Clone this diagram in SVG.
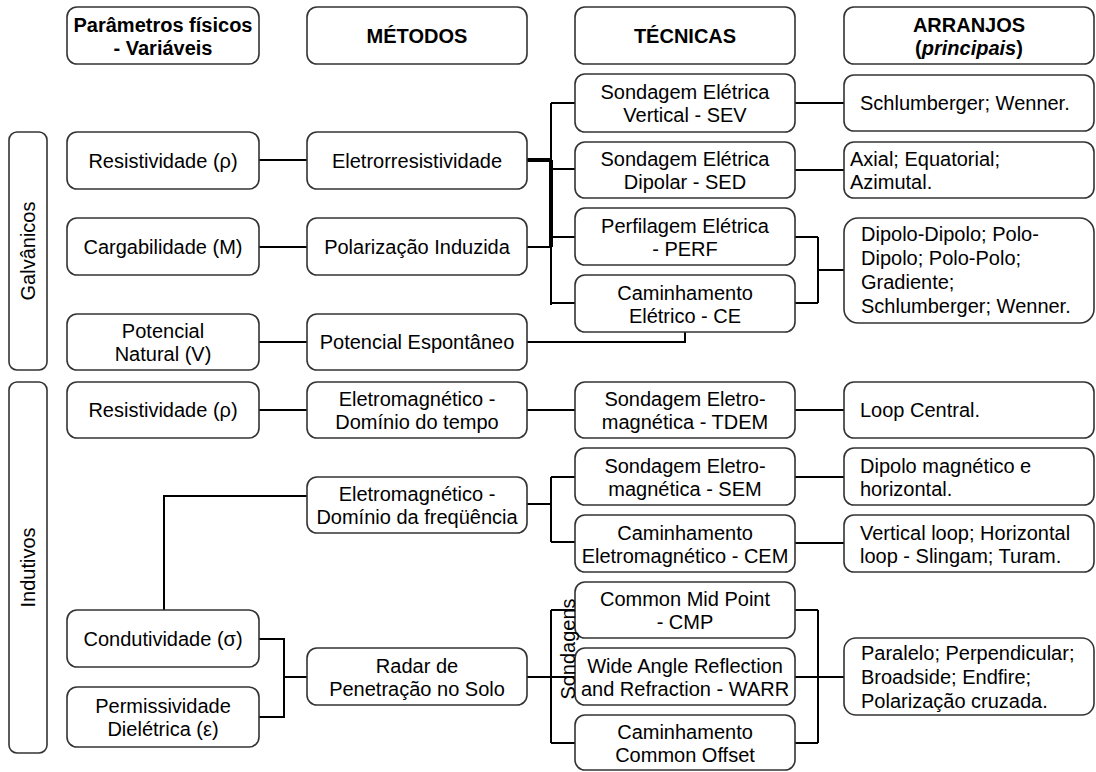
<svg xmlns="http://www.w3.org/2000/svg" width="1096" height="772" viewBox="0 0 1096 772">
<style>
.box{fill:#fff;stroke:#333;stroke-width:1.6}
.t{font-family:"Liberation Sans",Arial,sans-serif;font-size:20px;fill:#000;text-anchor:middle}
.l{text-anchor:start}
.b{font-weight:bold}
.c{stroke:#000;stroke-width:2;fill:none}
.thick{stroke:#000;stroke-width:4;fill:none}
</style>
<rect width="1096" height="772" fill="#fff"/>
<g id="connectors">
<path class="c" d="M259,160H307 M259,247H307 M259,342H307"/>
<path class="thick" d="M527,160H551 M551,160V247"/>
<path class="c" d="M527,247H551 M551,103V305 M551,103H575 M551,169H575 M551,237H575 M551,303H575"/>
<path class="c" d="M795,103H844 M795,170H844 M795,237H818 M795,303H818 M818,237V303 M818,270H844"/>
<path class="c" d="M527,342H685V332"/>
<path class="c" d="M259,410H307 M527,410H575 M795,410H844"/>
<path class="c" d="M307,496H164V610"/>
<path class="c" d="M527,504H551 M551,477V542 M551,477H575 M551,542H575 M795,477H844 M795,543H844"/>
<path class="c" d="M259,639H284V717H259 M284,677H307"/>
<path class="c" d="M527,677H551 M551,610V743 M551,610H575 M551,677H575 M551,743H575"/>
<path class="c" d="M795,610H818 M795,677H818 M795,743H818 M818,610V743 M818,677H844"/>
</g>
<g id="h1"><rect class="box" x="67" y="7" width="192" height="57" rx="10"/><text class="t b" x="163" y="31.5">Parâmetros físicos</text><text class="t b" x="163" y="54.5">- Variáveis</text></g>
<g id="h2"><rect class="box" x="307" y="7" width="220" height="57" rx="10"/><text class="t b" x="417" y="43">MÉTODOS</text></g>
<g id="h3"><rect class="box" x="575" y="7" width="220" height="57" rx="10"/><text class="t b" x="685" y="43">TÉCNICAS</text></g>
<g id="h4"><rect class="box" x="844" y="7" width="250" height="57" rx="10"/><text class="t b" x="969" y="31.5">ARRANJOS</text><text class="t b" x="969" y="54.5">(<tspan font-style="italic">principais</tspan>)</text></g>
<g id="galvanicos"><rect class="box" x="9" y="132" width="38" height="238" rx="8"/><text class="t" transform="translate(35,251) rotate(-90)">Galvânicos</text></g>
<g id="indutivos"><rect class="box" x="9" y="382" width="38" height="371" rx="8"/><text class="t" transform="translate(35,567.5) rotate(-90)">Indutivos</text></g>
<g id="p-resist1"><rect class="box" x="67" y="132" width="192" height="57" rx="10"/><text class="t" x="163" y="167.5">Resistividade (ρ)</text></g>
<g id="p-carga"><rect class="box" x="67" y="218" width="192" height="57" rx="10"/><text class="t" x="163" y="253.5">Cargabilidade (M)</text></g>
<g id="p-potnat"><rect class="box" x="67" y="314" width="192" height="56" rx="10"/><text class="t" x="163" y="338">Potencial</text><text class="t" x="163" y="361">Natural (V)</text></g>
<g id="p-resist2"><rect class="box" x="67" y="382" width="192" height="56" rx="10"/><text class="t" x="163" y="417">Resistividade (ρ)</text></g>
<g id="p-cond"><rect class="box" x="67" y="610" width="192" height="57" rx="10"/><text class="t" x="163" y="645.5">Condutividade (σ)</text></g>
<g id="p-perm"><rect class="box" x="67" y="687" width="192" height="60" rx="10"/><text class="t" x="163" y="713">Permissividade</text><text class="t" x="163" y="736">Dielétrica (ε)</text></g>
<g id="m-eletro"><rect class="box" x="307" y="132" width="220" height="57" rx="10"/><text class="t" x="417" y="167.5">Eletrorresistividade</text></g>
<g id="m-polar"><rect class="box" x="307" y="218" width="220" height="57" rx="10"/><text class="t" x="417" y="253.5">Polarização Induzida</text></g>
<g id="m-potesp"><rect class="box" x="307" y="314" width="220" height="56" rx="10"/><text class="t" x="417" y="349">Potencial Espontâneo</text></g>
<g id="m-tempo"><rect class="box" x="307" y="382" width="220" height="56" rx="10"/><text class="t" x="417" y="406">Eletromagnético -</text><text class="t" x="417" y="429">Domínio do tempo</text></g>
<g id="m-freq"><rect class="box" x="307" y="477" width="220" height="56" rx="10"/><text class="t" x="417" y="501">Eletromagnético -</text><text class="t" x="417" y="524">Domínio da freqüência</text></g>
<g id="m-radar"><rect class="box" x="307" y="648" width="220" height="57" rx="10"/><text class="t" x="417" y="672.5">Radar de</text><text class="t" x="417" y="695.5">Penetração no Solo</text></g>
<g id="t-sev"><rect class="box" x="575" y="74" width="220" height="58" rx="10"/><text class="t" x="685" y="99">Sondagem Elétrica</text><text class="t" x="685" y="122">Vertical - SEV</text></g>
<g id="t-sed"><rect class="box" x="575" y="142" width="220" height="56" rx="10"/><text class="t" x="685" y="166">Sondagem Elétrica</text><text class="t" x="685" y="189">Dipolar - SED</text></g>
<g id="t-perf"><rect class="box" x="575" y="208" width="220" height="57" rx="10"/><text class="t" x="685" y="232.5">Perfilagem Elétrica</text><text class="t" x="685" y="255.5">- PERF</text></g>
<g id="t-ce"><rect class="box" x="575" y="275" width="220" height="57" rx="10"/><text class="t" x="685" y="299.5">Caminhamento</text><text class="t" x="685" y="322.5">Elétrico - CE</text></g>
<g id="t-tdem"><rect class="box" x="575" y="382" width="220" height="56" rx="10"/><text class="t" x="685" y="406">Sondagem Eletro-</text><text class="t" x="685" y="429">magnética - TDEM</text></g>
<g id="t-sem"><rect class="box" x="575" y="448" width="220" height="57" rx="10"/><text class="t" x="685" y="472.5">Sondagem Eletro-</text><text class="t" x="685" y="495.5">magnética - SEM</text></g>
<g id="t-cem"><rect class="box" x="575" y="515" width="220" height="57" rx="10"/><text class="t" x="685" y="539.5">Caminhamento</text><text class="t" x="685" y="562.5">Eletromagnético - CEM</text></g>
<g id="t-cmp"><rect class="box" x="575" y="582" width="220" height="56" rx="10"/><text class="t" x="685" y="606">Common Mid Point</text><text class="t" x="685" y="629">- CMP</text></g>
<g id="t-warr"><rect class="box" x="575" y="648" width="220" height="57" rx="10"/><text class="t" x="685" y="672.5">Wide Angle Reflection</text><text class="t" x="685" y="695.5">and Refraction - WARR</text></g>
<g id="t-co"><rect class="box" x="575" y="715" width="220" height="55" rx="10"/><text class="t" x="685" y="738.5">Caminhamento</text><text class="t" x="685" y="761.5">Common Offset</text></g>
<g id="sondagens"><text class="t" transform="translate(575,649) rotate(-90)">Sondagens</text></g>
<g id="a-schl"><rect class="box" x="844" y="75" width="250" height="56" rx="10"/><text class="t l" x="860" y="110">Schlumberger; Wenner.</text></g>
<g id="a-axial"><rect class="box" x="844" y="142" width="250" height="56" rx="10"/><text class="t l" x="850" y="166">Axial; Equatorial;</text><text class="t l" x="850" y="189">Azimutal.</text></g>
<g id="a-dipolo"><rect class="box" x="844" y="218" width="250" height="105" rx="14"/><text class="t l" x="861" y="241">Dipolo-Dipolo; Polo-</text><text class="t l" x="861" y="265">Dipolo; Polo-Polo;</text><text class="t l" x="861" y="289">Gradiente;</text><text class="t l" x="861" y="313">Schlumberger; Wenner.</text></g>
<g id="a-loop"><rect class="box" x="844" y="382" width="250" height="56" rx="10"/><text class="t l" x="860" y="417">Loop Central.</text></g>
<g id="a-dipmag"><rect class="box" x="844" y="448" width="250" height="57" rx="10"/><text class="t l" x="860" y="472.5">Dipolo magnético e</text><text class="t l" x="860" y="495.5">horizontal.</text></g>
<g id="a-vloop"><rect class="box" x="844" y="515" width="250" height="57" rx="10"/><text class="t l" x="860" y="539.5">Vertical loop; Horizontal</text><text class="t l" x="860" y="562.5">loop - Slingam; Turam.</text></g>
<g id="a-paralelo"><rect class="box" x="844" y="638" width="250" height="77" rx="12"/><text class="t l" x="861" y="660">Paralelo; Perpendicular;</text><text class="t l" x="861" y="684">Broadside; Endfire;</text><text class="t l" x="861" y="708">Polarização cruzada.</text></g>
</svg>
